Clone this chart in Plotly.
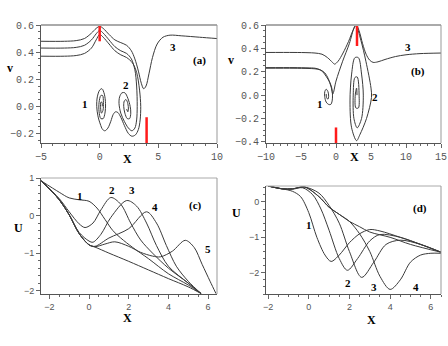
import plotly.graph_objects as go

# ---- panel (a): phase curves v vs X ----
a1_x = [-5, -3, -2, -1.3, -0.7, -0.3, 0, 0.3, 0.8, 1.3, 1.8, 2.3, 2.8, 3.15, 3.4, 3.5, 3.45, 3.3, 3.05, 2.75,
        2.45, 2.1, 1.8, 1.55, 1.35, 1.15, 0.95, 0.7, 0.45, 0.25, 0.05, -0.15, -0.25, -0.2, 0.0, 0.2, 0.4, 0.5,
        0.45, 0.3, 0.1, -0.05, -0.05, 0.1, 0.25, 0.32, 0.28, 0.15, 0.08, 0.1, 0.2, 0.22]
a1_y = [0.37, 0.37, 0.375, 0.39, 0.43, 0.49, 0.53, 0.51, 0.46, 0.41, 0.38, 0.36, 0.32, 0.25, 0.12, 0.0, -0.1,
        -0.17, -0.21, -0.22, -0.2, -0.14, -0.08, -0.045, -0.04, -0.06, -0.11, -0.16, -0.18, -0.17, -0.13,
        -0.07, 0.0, 0.07, 0.12, 0.13, 0.09, 0.02, -0.05, -0.09, -0.09, -0.04, 0.03, 0.08, 0.08, 0.03, -0.03,
        -0.05, -0.01, 0.03, 0.03, 0.0]
a2_x = [-5, -3, -2, -1.3, -0.7, -0.3, 0, 0.3, 0.8, 1.3, 1.8, 2.3, 2.7, 3.0, 3.15, 3.2, 3.15, 3.0, 2.75, 2.45,
        2.1, 1.8, 1.65, 1.7, 1.9, 2.15, 2.4, 2.6, 2.65, 2.55, 2.35, 2.15, 2.05, 2.1, 2.25, 2.4, 2.45, 2.4, 2.3]
a2_y = [0.43, 0.43, 0.435, 0.45, 0.49, 0.535, 0.56, 0.54, 0.49, 0.44, 0.41, 0.39, 0.35, 0.27, 0.15, 0.0, -0.1,
        -0.16, -0.18, -0.16, -0.11, -0.05, 0.02, 0.07, 0.10, 0.10, 0.06, 0.0, -0.05, -0.09, -0.09, -0.05, 0.0,
        0.04, 0.05, 0.02, -0.02, -0.04, -0.02]
a3_x = [-5, -3, -2, -1.3, -0.7, -0.3, 0, 0.3, 0.8, 1.3, 1.8, 2.3, 2.7, 3.0, 3.3, 3.55, 3.75, 3.95, 4.2, 4.5,
        4.9, 5.4, 6.0, 7, 8.5, 10]
a3_y = [0.48, 0.48, 0.485, 0.5, 0.54, 0.575, 0.59, 0.575, 0.53, 0.49, 0.47, 0.45, 0.41, 0.35, 0.26, 0.17, 0.13,
        0.15, 0.24, 0.36, 0.46, 0.51, 0.525, 0.52, 0.51, 0.50]
a_red_x = [0, 4]
a_red_y0 = [0.48, -0.27]
a_red_y1 = [0.6, -0.08]

# ---- panel (b) ----
b1_x = [-10, -6, -4, -3, -2.4, -1.9, -1.4, -0.9, -0.6, -0.5, -0.55, -0.75, -1.05, -1.4, -1.62, -1.6, -1.4,
        -1.15, -1.05, -1.15, -1.35, -1.4]
b1_y = [0.235, 0.235, 0.233, 0.23, 0.22, 0.2, 0.16, 0.11, 0.06, 0.0, -0.05, -0.08, -0.08, -0.06, -0.01, 0.03,
        0.05, 0.03, -0.01, -0.035, -0.02, 0.01]
b2_x = [-10, -6, -4, -3, -2.2, -1.6, -1.1, -0.7, -0.45, 0, 0.95, 1.9, 2.6, 2.84, 3.55, 4.27, 5.0, 5.07, 4.36,
        3.4, 2.94, 2.23, 2.0, 2.23, 2.7, 3.2, 3.65, 3.9, 3.65, 3.03, 2.56, 2.46, 2.7, 3.03, 3.3, 3.2, 2.84,
        2.75, 2.94, 3.0]
b2_y = [0.23, 0.23, 0.228, 0.225, 0.215, 0.19, 0.14, 0.07, 0.01, 0.12, 0.29, 0.44, 0.58, 0.6, 0.47, 0.29,
        0.06, -0.02, -0.2, -0.34, -0.39, -0.28, -0.05, 0.18, 0.32, 0.32, 0.18, 0.0, -0.2, -0.28, -0.2, 0.0,
        0.15, 0.155, 0.0, -0.11, -0.11, 0.0, 0.06, 0.0]
b3_x = [-10, -6, -4, -3, -2, -1.2, -0.5, -0.2, 0.3, 1, 1.8, 2.4, 2.9, 3.3, 3.8, 4.3, 4.8, 5.3, 6, 7, 8.5, 10,
        12, 15]
b3_y = [0.365, 0.365, 0.363, 0.36, 0.35, 0.32, 0.28, 0.265, 0.29, 0.36, 0.46, 0.55, 0.6, 0.55, 0.44, 0.35,
        0.30, 0.28, 0.285, 0.305, 0.33, 0.345, 0.355, 0.36]
b_red_x = [3, 0]
b_red_y0 = [0.42, -0.41]
b_red_y1 = [0.6, -0.277]

# ---- panel (c): U vs X ----
c1_x = [-2.4, -1.5, -1, -0.5, 0, 0.4, 0.8, 1.2, 1.6, 2.2, 3, 4, 5, 5.65]
c1_y = [0.92, 0.62, 0.47, 0.42, 0.38, 0.2, -0.1, -0.4, -0.6, -0.85, -1.15, -1.55, -1.85, -2.08]
c2_x = [-2.4, -1.5, -1, -0.5, -0.2, 0.2, 0.6, 1.1, 1.6, 2.1, 2.6, 3.2, 4, 5, 5.65]
c2_y = [0.92, 0.45, 0.1, -0.22, -0.32, -0.2, 0.15, 0.48, 0.3, -0.2, -0.65, -1.0, -1.4, -1.8, -2.08]
c3_x = [-2.4, -1.5, -1, -0.5, 0, 0.2, 0.6, 1.1, 1.9, 2.4, 2.9, 3.4, 4, 5, 5.65]
c3_y = [0.92, 0.42, 0.02, -0.45, -0.68, -0.71, -0.5, -0.05, 0.4, 0.25, -0.2, -0.8, -1.35, -1.8, -2.08]
c4_x = [-2.4, -1.5, -1, -0.5, 0, 0.3, 1, 2, 2.9, 3.4, 3.9, 4.4, 5, 5.65]
c4_y = [0.92, 0.42, 0.02, -0.48, -0.78, -0.82, -0.6, -0.35, 0.1, -0.2, -0.8, -1.35, -1.75, -2.08]
c5_x = [-2.4, -1.5, -1, -0.5, 0, 0.3, 0.8, 1.3, 2, 2.6, 3.2, 3.6, 4.2, 4.85, 5.3, 5.7, 6.1, 6.4]
c5_y = [0.92, 0.42, 0.02, -0.48, -0.78, -0.83, -0.76, -0.7, -0.82, -0.98, -1.08, -1.1, -0.95, -0.66, -0.85,
        -1.3, -1.75, -2.08]
c6_x = [-2.4, -1.5, -1, -0.5, 0, 0.3, 1, 2, 3, 4, 5, 5.65]
c6_y = [0.92, 0.42, 0.02, -0.48, -0.78, -0.84, -1.0, -1.22, -1.45, -1.68, -1.9, -2.08]

# ---- panel (d) ----
d1_x = [-2, -1.3, -0.8, -0.4, 0, 0.4, 0.8, 1.1, 1.5, 2, 2.5, 3, 3.5, 4.5, 5.5, 6.5]
d1_y = [0.45, 0.37, 0.3, 0.15, -0.3, -1.0, -1.5, -1.68, -1.5, -1.15, -0.9, -0.78, -0.82, -1.0, -1.2, -1.42]
d2_x = [-2, -1.3, -0.8, -0.3, 0.2, 0.6, 1, 1.5, 1.9, 2.4, 3, 3.5, 4.5, 5.5, 6.5]
d2_y = [0.45, 0.37, 0.36, 0.4, 0.2, -0.2, -0.8, -1.6, -1.93, -1.6, -1.1, -0.92, -1.0, -1.2, -1.42]
d3_x = [-2, -1.3, -0.8, -0.2, 0.5, 1, 1.5, 2, 2.6, 3.2, 3.8, 4.5, 5.5, 6.5]
d3_y = [0.45, 0.37, 0.37, 0.42, 0.25, -0.1, -0.6, -1.4, -2.13, -1.7, -1.2, -1.08, -1.2, -1.42]
d4_x = [-2, -1.3, -0.8, -0.2, 0.5, 1, 1.5, 2, 2.5, 3, 3.5, 4, 4.5, 5, 5.5, 6, 6.5]
d4_y = [0.45, 0.37, 0.37, 0.42, 0.15, -0.15, -0.35, -0.55, -0.9, -1.4, -2.1, -2.47, -2.2, -1.7, -1.5, -1.45,
        -1.45]
d5_x = [-2, -1.3, -0.8, -0.2, 0.5, 1, 1.5, 2, 2.5, 3, 4, 5, 6.5]
d5_y = [0.45, 0.37, 0.37, 0.42, 0.15, -0.15, -0.35, -0.55, -0.7, -0.85, -1.0, -1.2, -1.42]

W, H = 448, 346


def fx(px):
    return px / W


def fy(py):
    return 1 - py / H


LINE = dict(color='#3a3a3a', width=1)
fig = go.Figure()


def add_curve(x, y, xa, ya):
    fig.add_trace(go.Scatter(x=x, y=y, mode='lines', line=dict(LINE, shape='spline', smoothing=0.9),
                             xaxis=xa, yaxis=ya, showlegend=False, hoverinfo='skip'))


for cx, cy in [(a1_x, a1_y), (a2_x, a2_y), (a3_x, a3_y)]:
    add_curve(cx, cy, 'x', 'y')
for cx, cy in [(b1_x, b1_y), (b2_x, b2_y), (b3_x, b3_y)]:
    add_curve(cx, cy, 'x2', 'y2')
for cx, cy in [(c1_x, c1_y), (c2_x, c2_y), (c3_x, c3_y), (c4_x, c4_y), (c5_x, c5_y), (c6_x, c6_y)]:
    add_curve(cx, cy, 'x3', 'y3')
for cx, cy in [(d1_x, d1_y), (d2_x, d2_y), (d3_x, d3_y), (d4_x, d4_y), (d5_x, d5_y)]:
    add_curve(cx, cy, 'x4', 'y4')

# red markers
for rx, r0, r1, xa, ya in [(a_red_x, a_red_y0, a_red_y1, 'x', 'y'), (b_red_x, b_red_y0, b_red_y1, 'x2', 'y2')]:
    for i in range(len(rx)):
        fig.add_trace(go.Scatter(x=[rx[i], rx[i]], y=[r0[i], r1[i]], mode='lines',
                                 line=dict(color='#ff1a1a', width=2.5), xaxis=xa, yaxis=ya,
                                 showlegend=False, hoverinfo='skip'))

mono = dict(family='Liberation Mono', size=10, color='#555')
sans = dict(family='Liberation Sans', size=9, color='#555')
bold = dict(family='Liberation Serif', size=11, color='black')


def ax(domain, rng, dtick, font, anchor, minor=None, fmt=None):
    d = dict(domain=domain, range=rng, dtick=dtick, tick0=0, ticks='outside', ticklen=4, tickcolor='#666',
             showline=True, linecolor='#555', linewidth=1, showgrid=False, zeroline=False,
             tickfont=font, anchor=anchor, automargin=False)
    if minor:
        d['minor'] = dict(dtick=minor, ticks='outside', ticklen=2, tickcolor='#666')
    if fmt:
        d['tickformat'] = fmt
    return d


xa_left = [fx(41), fx(217)]
xa_right = [fx(266), fx(441)]
ya_top = [fy(143), fy(25)]
fig.update_layout(
    width=W, height=H, margin=dict(l=0, r=0, t=0, b=0, autoexpand=False),
    paper_bgcolor='white', plot_bgcolor='white',
    xaxis=ax(xa_left, [-5, 10], 5, mono, 'y', minor=1),
    yaxis=ax(ya_top, [-0.27, 0.6], 0.2, mono, 'x', minor=0.05, fmt='.1f'),
    xaxis2=ax(xa_right, [-10, 15], 5, mono, 'y2', minor=1),
    yaxis2=ax(ya_top, [-0.41, 0.6], 0.2, mono, 'x2', minor=0.05, fmt='.1f'),
    xaxis3=ax(xa_left, [-2.42, 6.45], 2, sans, 'y3', minor=0.5),
    yaxis3=ax([fy(294), fy(178)], [-2.09, 1.0], 1, sans, 'x3', minor=0.2),
    xaxis4=ax(xa_right, [-2.1, 6.5], 2, sans, 'y4', minor=0.5),
    yaxis4=ax([fy(294), fy(186)], [-2.6, 0.45], 1, sans, 'x4', minor=0.2),
)

# frame: top (light gray, thick) and right border
shapes = []
for i, (xa, ya) in enumerate([('x', 'y'), ('x2', 'y2'), ('x3', 'y3'), ('x4', 'y4')]):
    top_w = 2 if i < 2 else 1
    shapes.append(dict(type='line', xref=xa + ' domain', yref=ya + ' domain', x0=0, x1=1, y0=1, y1=1,
                       line=dict(color='#aaa', width=top_w)))
    shapes.append(dict(type='line', xref=xa + ' domain', yref=ya + ' domain', x0=1, x1=1, y0=0, y1=1,
                       line=dict(color='#999', width=1)))
fig.update_layout(shapes=shapes)

# curve labels
labels = [
    ('x', 'y', -1.22, 0.02, '1'), ('x', 'y', 2.26, 0.16, '2'), ('x', 'y', 6.24, 0.44, '3'),
    ('x', 'y', 8.54, 0.34, '(a)'),
    ('x2', 'y2', -2.27, -0.08, '1'), ('x2', 'y2', 5.55, -0.02, '2'), ('x2', 'y2', 10.3, 0.41, '3'),
    ('x2', 'y2', 11.7, 0.2, '(b)'),
    ('x3', 'y3', -0.47, 0.53, '1'), ('x3', 'y3', 1.15, 0.69, '2'), ('x3', 'y3', 2.16, 0.67, '3'),
    ('x3', 'y3', 3.32, 0.24, '4'), ('x3', 'y3', 6.0, -0.9, '5'), ('x3', 'y3', 5.37, 0.28, '(c)'),
    ('x4', 'y4', 0.0, -0.66, '1'), ('x4', 'y4', 1.95, -2.28, '2'), ('x4', 'y4', 3.22, -2.39, '3'),
    ('x4', 'y4', 5.28, -2.39, '4'), ('x4', 'y4', 5.46, -0.18, '(d)'),
]
for xa, ya, lx, ly, t in labels:
    fig.add_annotation(x=lx, y=ly, xref=xa, yref=ya, text='<b>%s</b>' % t, showarrow=False, font=bold,
                       borderpad=0, xanchor='center', yanchor='middle')

# axis titles (page pixel positions)
titles = [(10, 68, 'v'), (127, 159, 'X'), (231, 60, 'v'), (354, 157, 'X'),
          (18, 228, 'U'), (127, 318, 'X'), (237, 213, 'U'), (371, 320, 'X')]
for px, py, t in titles:
    fig.add_annotation(x=fx(px), y=fy(py), xref='paper', yref='paper', text='<b>%s</b>' % t,
                       showarrow=False, borderpad=0, xanchor='center', yanchor='middle',
                       font=dict(family='Liberation Serif', size=12, color='black'))

# drop the default page margin so the figure sits at the window's top-left corner
fig.write_html('out.html', config={'displayModeBar': False},
               post_script="document.body.style.margin='0px';"
                           "document.documentElement.style.overflow='hidden';")
